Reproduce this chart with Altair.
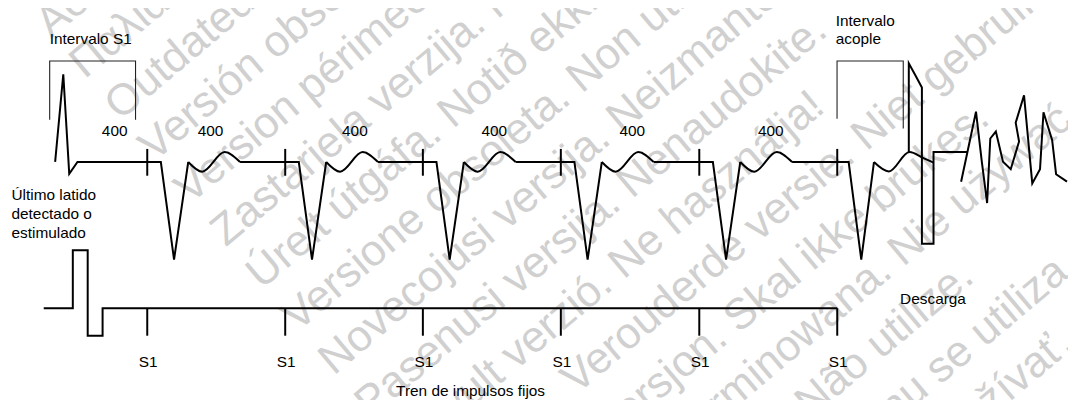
import math
import altair as alt
import pandas as pd

# ---------------- data (reference pixel units) ----------------
# S1 pacing pulse positions along the time axis
s1_pos = [148.3, 287.3, 426.0, 565.0, 704.5, 843.5]

# straight-line traces: ECG (sensed beat + paced QRS complexes), shock, VF, pacing line
trace_seg = [0] * 7 + [1] * 4 + [2] * 4 + [3] * 4 + [4] * 4 + [5] * 4 + [6] * 8 + [7] * 17 + [8] * 8
trace_x = [55.5, 63.7, 69.7, 78.0, 162.0, 175.3, 189.6,
           241.8, 301.0, 314.3, 328.6,
           380.8, 439.7, 453.0, 467.3,
           519.5, 578.7, 592.0, 606.3,
           658.5, 718.2, 731.5, 745.8,
           798.0, 855.0, 867.7, 880.5,
           915.6, 915.6, 922.2, 928.8, 928.8, 940.5, 940.5, 975.0,
           968.3, 983.3, 989.0, 994.5, 997.7, 1003.3, 1010.5, 1018.3, 1026.7,
           1023.3, 1031.7, 1040.0, 1047.8, 1051.3, 1060.0, 1064.0, 1075.0,
           44.0, 73.3, 73.3, 88.3, 88.3, 103.3, 103.3, 843.5]
trace_y = [161.5, 73.3, 173.7, 161.7, 161.7, 260.0, 161.7,
           161.7, 161.7, 260.0, 161.7,
           161.7, 161.7, 260.0, 161.7,
           161.7, 161.7, 260.0, 161.7,
           161.7, 161.7, 260.0, 161.7,
           161.7, 161.7, 260.0, 161.7,
           151.7, 62.3, 74.2, 86.7, 244.0, 244.0, 151.7, 151.7,
           181.5, 111.0, 160.0, 203.0, 138.0, 131.0, 161.5, 169.0, 141.0,
           122.0, 94.5, 183.3, 169.0, 111.5, 139.5, 174.0, 181.5,
           309.0, 309.0, 250.7, 250.7, 336.7, 336.7, 309.0, 309.0]

# smooth T waves after each complex
twave_beat = [1] * 4 + [2] * 4 + [3] * 4 + [4] * 4 + [5] * 4 + [6] * 5
twave_x = [189.6, 203.6, 226.3, 241.8,
           328.6, 342.6, 365.3, 380.8,
           467.3, 481.3, 504.0, 519.5,
           606.3, 620.3, 643.0, 658.5,
           745.8, 759.8, 782.5, 798.0,
           880.5, 895.5, 916.3, 930.0, 940.5]
twave_y = [161.7, 171.5, 151.7, 161.7] * 5 + [161.7, 171.2, 151.7, 157.5, 162.3]

# interval brackets
bracket_id = [1, 1, 1, 1, 2, 2, 2, 2]
bracket_x = [50.0, 50.0, 136.5, 136.5, 843.3, 843.3, 910.0, 910.0]
bracket_y = [119.0, 60.0, 60.0, 119.0, 118.0, 60.0, 60.0, 128.0]

# labels
interval_labels = ["400", "400", "400", "400", "400", "400"]
interval_x = [115.5, 212.0, 357.5, 498.0, 637.0, 776.5]
left_text = ["Intervalo S1", "Último latido", "detectado o", "estimulado",
             "Intervalo", "acople", "Tren de impulsos fijos"]
left_x = [50.0, 11.5, 11.5, 11.5, 842.0, 842.0, 399.0]
left_y = [42.5, 199.5, 219.0, 238.5, 25.0, 43.0, 397.5]

# watermark lines (one phrase per diagonal line)
wm_phrase = ["Aegunud versioon. Ärge kasutage.",
             "Παλιά έκδοση. Μην τη χρησιμοποιείτε.",
             "Outdated version. Do not use.",
             "Versión obsoleta. No utilizar.",
             "Version périmée. Ne pas utiliser.",
             "Zastarjela verzija. Nemojte upotrebljavati.",
             "Úrelt útgáfa. Notið ekki.",
             "Versione obsoleta. Non utilizzare.",
             "Novecojusi versija. Neizmantot.",
             "Pasenusi versija. Nenaudokite.",
             "Elavult verzió. Ne használja!",
             "Verouderde versie. Niet gebruiken.",
             "Foreldet versjon. Skal ikke brukes.",
             "Wersja przeterminowana. Nie używać.",
             "Versão obsoleta. Não utilize.",
             "Versiune expirată. A nu se utiliza.",
             "Zastaraná verzia. Nepoužívať."]
wm_offset = [62, 115, 170, 224, 280, 336, 392, 448, 505, 562, 619, 677, 735, 790, 847, 905, 963]
wm_start = [15, 15, 15, 15, 15, 15, 15, 15, 15, 15, 15, 190, 15, 15, 15, 15, 15]

# ---------------- tables ----------------
trace_df = pd.DataFrame({"seg": trace_seg, "x": trace_x, "y": trace_y,
                         "i": list(range(len(trace_x)))})
twave_df = pd.DataFrame({"beat": twave_beat, "x": twave_x, "y": twave_y,
                         "i": list(range(len(twave_x)))})
bracket_df = pd.DataFrame({"b": bracket_id, "x": bracket_x, "y": bracket_y,
                           "i": list(range(len(bracket_x)))})
ecg_ticks = pd.DataFrame({"x": s1_pos, "y1": [148.5] * 6, "y2": [175.5] * 6})
pulse_ticks = pd.DataFrame({"x": s1_pos, "y1": [309.0] * 6, "y2": [336.7] * 6})
center_df = pd.DataFrame({
    "t": interval_labels + ["S1"] * 6 + ["Descarga"],
    "x": interval_x + [p + 1 for p in s1_pos] + [940.0],
    "y": [135.5] * 6 + [368.0] * 6 + [305.0],
})
left_df = pd.DataFrame({"t": left_text, "x": left_x, "y": left_y})

ang = math.radians(40)
wm_df = pd.DataFrame({
    "t": wm_phrase,
    "x": [a * math.cos(ang) + n * math.sin(ang) for a, n in zip(wm_start, wm_offset)],
    "y": [-a * math.sin(ang) + n * math.cos(ang) for a, n in zip(wm_start, wm_offset)],
})

# ---------------- chart ----------------
XS = alt.Scale(domain=[8, 1076], nice=False, zero=False)
YS = alt.Scale(domain=[8, 400], nice=False, zero=False, reverse=True)


def X(f="x"):
    return alt.X(f"{f}:Q", scale=XS, axis=None)


def Y(f="y"):
    return alt.Y(f"{f}:Q", scale=YS, axis=None)


FONT = "Liberation Sans"

watermark = alt.Chart(wm_df).mark_text(
    align="left", baseline="alphabetic", angle=320, font=FONT, fontSize=44,
    color="#d0d0d0"
).encode(x=X(), y=Y(), text="t:N")

brackets = alt.Chart(bracket_df).mark_line(
    color="#222222", strokeWidth=1.1
).encode(x=X(), y=Y(), detail="b:N", order="i:Q")

trace = alt.Chart(trace_df).mark_line(
    color="black", strokeWidth=2
).encode(x=X(), y=Y(), detail="seg:N", order="i:Q")

twaves = alt.Chart(twave_df).mark_line(
    color="black", strokeWidth=2, interpolate="monotone"
).encode(x=X(), y=Y(), detail="beat:N", order="i:Q")

ticks1 = alt.Chart(ecg_ticks).mark_rule(color="black", strokeWidth=2).encode(
    x=X(), y=Y("y1"), y2="y2:Q")
ticks2 = alt.Chart(pulse_ticks).mark_rule(color="black", strokeWidth=2).encode(
    x=X(), y=Y("y1"), y2="y2:Q")

center_labels = alt.Chart(center_df).mark_text(
    align="center", baseline="alphabetic", font=FONT, fontSize=15.5, color="black"
).encode(x=X(), y=Y(), text="t:N")

left_labels = alt.Chart(left_df).mark_text(
    align="left", baseline="alphabetic", font=FONT, fontSize=15.5, color="black"
).encode(x=X(), y=Y(), text="t:N")

chart = alt.layer(
    watermark, brackets, trace, twaves, ticks1, ticks2, center_labels, left_labels
).properties(
    width=1068, height=392, padding=0,
    autosize=alt.AutoSizeParams(type="none"),
    background="white",
).configure_view(strokeWidth=0)

chart.save("out.html", embed_options={"renderer": "svg", "actions": False})
